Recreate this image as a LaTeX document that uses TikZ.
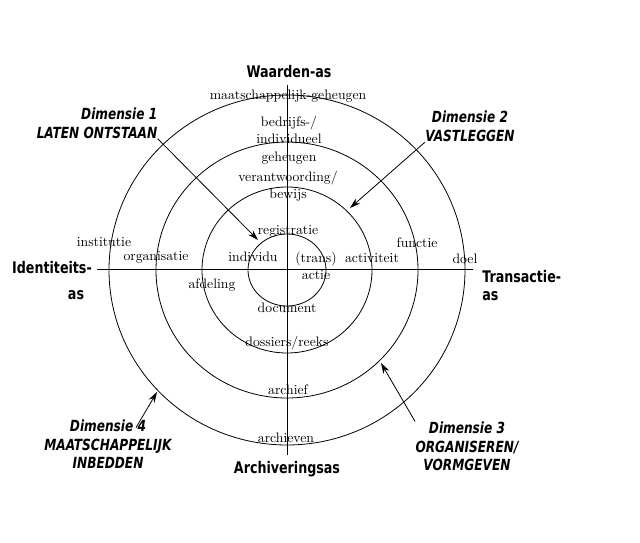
\documentclass[tikz,border=0pt]{standalone}
\usepackage{fontspec}
\usetikzlibrary{arrows.meta}
\newfontfamily\condfont{DejaVu Sans Condensed}[FakeStretch=0.88]
\tikzset{every picture/.style={line width=0.6pt}}
\tikzset{
  ringtext/.style={font=\fontsize{10.3}{13}\selectfont, inner sep=0pt, align=center},
  axistext/.style={font=\condfont\bfseries\fontsize{12}{13.5}\selectfont, inner sep=0pt},
  dimtext/.style={font=\condfont\bfseries\itshape\fontsize{11.5}{14}\selectfont, inner sep=0pt},
  dimarrow/.style={-{Stealth[length=8pt,width=5pt]}}
}

\begin{document}
\begin{tikzpicture}[x=0.75pt,y=0.75pt,yscale=-1,xscale=1]
		\useasboundingbox (0,0) rectangle (640,543);
		
		%Shape: Circle [id:ring1] 
		\coordinate (mid) at (287,270);
		\draw (mid) ellipse (39 and 36);
		%Shape: Circle [id:ring2] 
		\draw (mid) ellipse (85 and 83);
		%Shape: Circle [id:ring3] 
		\draw (mid) ellipse (131 and 128);
		%Shape: Circle [id:ring4] 
		\draw (mid) ellipse (178 and 175);
		
		%Straight Lines [id:axes] 
		\coordinate (axW) at (97,269);
		\coordinate (axE) at (473,269);
		\coordinate (axN) at (287,85);
		\coordinate (axS) at (287,455);
		\draw (axW) -- (axE);
		\draw (axN) -- (axS);
		
		% Text Node
		\draw (289,72) node [axistext] (waarden) {Waarden-as};
		% Text Node
		\draw (287,469) node [axistext] (archiv) {Archiveringsas};
		% Text Node
		\draw (52,268) node [axistext] (ident) {Identiteits-};
		% Text Node
		\draw (76,295) node [axistext] (identas) {as};
		% Text Node
		\draw (482,286) node [axistext, anchor=west, align=left] (transac) {Transactie-\\as};
		
		% Text Node
		\draw (288,96) node [ringtext] (maatsch) {maatschappelijk-geheugen};
		% Text Node
		\draw (289,140) node [ringtext] (bedrijf) {bedrijfs-/\\individueel\\geheugen};
		% Text Node
		\draw (288,186.5) node [ringtext, font=\fontsize{10.3}{12.5}\selectfont] (verantw) {verantwoording/\\bewijs};
		% Text Node
		\draw (288,231) node [ringtext] (registr) {registratie};
		% Text Node
		\draw (253,257) node [ringtext] (individu) {individu};
		% Text Node
		\draw (316,266) node [ringtext] (transactie) {(trans)\\actie};
		% Text Node
		\draw (372,258) node [ringtext] (activ) {activiteit};
		% Text Node
		\draw (417,243) node [ringtext] (functie) {functie};
		% Text Node
		\draw (465,259) node [ringtext] (doel) {doel};
		% Text Node
		\draw (104,242) node [ringtext] (instit) {institutie};
		% Text Node
		\draw (156,257) node [ringtext] (organis) {organisatie};
		% Text Node
		\draw (212,285) node [ringtext] (afdeling) {afdeling};
		% Text Node
		\draw (287,308) node [ringtext] (document) {document};
		% Text Node
		\draw (287,343) node [ringtext] (dossiers) {dossiers/reeks};
		% Text Node
		\draw (288,390) node [ringtext] (archief) {archief};
		% Text Node
		\draw (286,438) node [ringtext] (archieven) {archieven};
		
		% Text Node
		\draw (97,123) node [dimtext, align=right] (dimA) {Dimensie 1\\LATEN ONTSTAAN};
		% Text Node
		\draw (470,126.5) node [dimtext, align=center] (dimB) {Dimensie 2\\VASTLEGGEN};
		% Text Node
		\draw (467,446.5) node [dimtext, align=center] (dimC) {Dimensie 3\\ORGANISEREN/\\VORMGEVEN};
		% Text Node
		\draw (108,444.5) node [dimtext, align=center] (dimD) {Dimensie 4\\MAATSCHAPPELIJK\\INBEDDEN};
		
		%Arrows [id:dimension arrows] 
		\coordinate (tipA) at (258,240);
		\coordinate (tipB) at (350,208);
		\coordinate (tipC) at (381,363);
		\coordinate (tipD) at (157,392);
		\draw [dimarrow] (dimA.south east) -- (tipA);
		\draw [dimarrow] (dimB.south west) -- (tipB);
		\draw [dimarrow] (dimC.north west) -- (tipC);
		\draw [dimarrow] ([xshift=21pt,yshift=6pt]dimD.north) -- (tipD);
		
		\end{tikzpicture}
\end{document}
